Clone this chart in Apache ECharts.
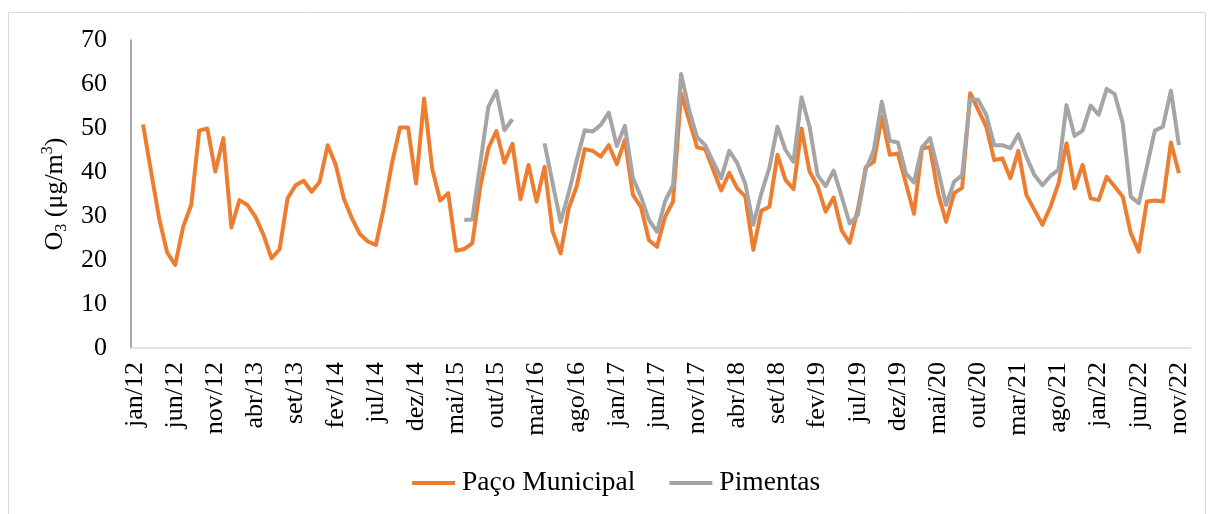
<!DOCTYPE html>
<html>
<head>
<meta charset="utf-8">
<script src="https://cdn.jsdelivr.net/npm/echarts@6.0.0/dist/echarts.min.js"></script>
<style>
  html, body { margin: 0; padding: 0; background: #fff; }
  #chart { width: 1215px; height: 514px; }
</style>
</head>
<body>
<div id="chart"></div>
<script>
  // eixo x: jan/12 ... dez/22 (mensal)
  const meses = ['jan', 'fev', 'mar', 'abr', 'mai', 'jun', 'jul', 'ago', 'set', 'out', 'nov', 'dez'];
  const anos = [12, 13, 14, 15, 16, 17, 18, 19, 20, 21, 22];
  const categorias = [];
  anos.forEach(function (a) {
    meses.forEach(function (m) { categorias.push(m + '/' + a); });
  });

  // Paço Municipal: fev/12 ... nov/22
  const paco = [
    50.8, 40.1, 29.5, 21.7, 18.9, 27.6, 32.5, 49.4, 49.9, 40.1,
    47.7, 27.4, 33.6, 32.5, 29.8, 25.7, 20.4, 22.4, 34.0, 37.0,
    38.0, 35.5, 37.8, 46.1, 41.6, 34.0, 29.5, 25.9, 24.2, 23.4,
    32.0, 42.0, 50.1, 50.1, 37.4, 56.7, 40.8, 33.5, 35.2, 22.1,
    22.5, 23.8, 36.7, 45.4, 49.3, 42.1, 46.4, 33.8, 41.6, 33.3,
    41.2, 26.5, 21.5, 31.7, 36.7, 45.2, 44.8, 43.5, 46.1, 41.8,
    47.3, 34.8, 32.1, 24.5, 23.0, 29.8, 33.3, 57.9, 51.8, 45.6,
    45.2, 40.5, 35.8, 39.8, 36.3, 34.4, 22.3, 31.2, 32.1, 43.9,
    38.2, 36.1, 49.9, 40.1, 36.8, 31.0, 34.2, 26.7, 23.9, 31.4,
    41.1, 42.3, 52.6, 43.9, 44.2, 37.4, 30.5, 45.4, 45.6, 35.2,
    28.7, 35.2, 36.4, 57.9, 54.1, 50.3, 42.7, 43.1, 38.6, 44.8,
    34.8, 31.4, 28.0, 32.1, 37.4, 46.5, 36.3, 41.6, 34.0, 33.6,
    38.9, 36.7, 34.4, 26.1, 21.9, 33.3, 33.5, 33.3, 46.7, 39.7
  ];

  // Pimentas: jun/15 ... dez/15, depois abr/16 ... nov/22
  const pimentas2015 = [29.1, 29.2, 42.0, 54.8, 58.4, 49.5, 52.0];
  const pimentas2016 = [
    46.5, 37.5, 28.7, 35.2, 42.7, 49.5, 49.2, 50.7, 53.5, 45.9,
    50.5, 38.6, 34.4, 29.1, 26.4, 33.3, 37.0, 62.3, 54.1, 47.9,
    46.1, 42.3, 38.6, 44.8, 42.0, 37.3, 28.0, 35.2, 41.0, 50.3,
    45.0, 42.3, 57.0, 50.3, 39.3, 36.8, 40.3, 34.4, 28.3, 30.2,
    40.5, 45.0, 56.0, 47.1, 46.7, 39.7, 37.6, 45.6, 47.7, 40.5,
    32.5, 37.8, 39.3, 56.5, 56.4, 53.0, 46.1, 46.1, 45.4, 48.6,
    43.5, 39.3, 37.0, 39.1, 40.5, 55.2, 48.2, 49.4, 55.1, 53.0,
    58.9, 57.7, 51.1, 34.4, 32.9, 41.2, 49.4, 50.3, 58.5, 46.1
  ];

  const serieNomes = ['Paço Municipal', 'Pimentas'];
  const cores = ['#ED7D31', '#A5A5A5'];

  // alinhar com as categorias (jan/12 e dez/22 sem dado)
  const pacoData = [null].concat(paco, [null]);
  const pimentasData = Array(41).fill(null).concat(pimentas2015, [null, null, null], pimentas2016, [null]);

  const fonte = 'Liberation Serif';
  const chart = echarts.init(document.getElementById('chart'));

  chart.setOption({
    animation: false,
    color: cores,
    graphic: [{
      type: 'rect',
      shape: {x: 8.5, y: 12.5, width: 1197, height: 520},
      style: {fill: 'none', stroke: '#d9d9d9', lineWidth: 1},
      silent: true
    }],
    grid: {left: 131, right: 24, top: 40, bottom: 166},
    legend: {
      data: serieNomes,
      left: 412,
      top: 469,
      padding: 0,
      icon: 'rect',
      itemWidth: 43,
      itemHeight: 4,
      itemGap: 34,
      textStyle: {fontFamily: fonte, fontSize: 27.5, color: '#000', padding: [0, 0, 0, 2]}
    },
    xAxis: {
      type: 'category',
      data: categorias,
      boundaryGap: true,
      axisLine: {lineStyle: {color: '#d9d9d9', width: 1.5}},
      axisTick: {show: false},
      axisLabel: {
        interval: 4,
        rotate: 90,
        margin: 14,
        fontFamily: fonte,
        fontSize: 26,
        color: '#000'
      },
      splitLine: {show: false}
    },
    yAxis: {
      type: 'value',
      min: 0,
      max: 70,
      interval: 10,
      name: '{n|O}{s|3}{n| (μg/m}{p|3}{n|)}',
      nameLocation: 'middle',
      nameGap: 52,
      nameTextStyle: {
        fontFamily: fonte,
        color: '#000',
        rich: {
          n: {fontFamily: fonte, fontSize: 26, color: '#000', lineHeight: 30},
          s: {fontFamily: fonte, fontSize: 16, color: '#000', lineHeight: 16, verticalAlign: 'bottom'},
          p: {fontFamily: fonte, fontSize: 16, color: '#000', lineHeight: 16, verticalAlign: 'top'}
        }
      },
      axisLine: {show: true, lineStyle: {color: '#8c8c8c', width: 1.5}},
      axisTick: {show: false},
      axisLabel: {fontFamily: fonte, fontSize: 26, color: '#000', margin: 24},
      splitLine: {show: false}
    },
    series: [
      {
        name: serieNomes[0],
        type: 'line',
        data: pacoData,
        symbol: 'none',
        lineStyle: {width: 4, join: 'round'}
      },
      {
        name: serieNomes[1],
        type: 'line',
        data: pimentasData,
        symbol: 'none',
        lineStyle: {width: 4, join: 'round'}
      }
    ]
  });
</script>
</body>
</html>
